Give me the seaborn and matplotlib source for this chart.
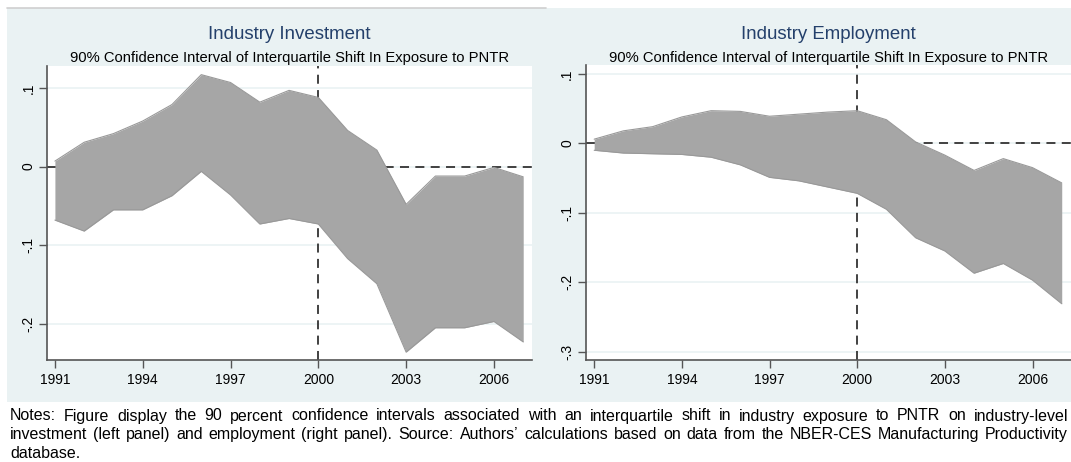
import matplotlib
matplotlib.use("Agg")
import matplotlib.pyplot as plt
import seaborn as sns
import pandas as pd
from matplotlib.patches import Rectangle
from matplotlib.lines import Line2D
from matplotlib.ticker import FuncFormatter

# ---------------- data ----------------
years = [1991, 1992, 1993, 1994, 1995, 1996, 1997, 1998, 1999,
         2000, 2001, 2002, 2003, 2004, 2005, 2006, 2007]
inv_upper = [0.007, 0.031, 0.042, 0.058, 0.079, 0.117, 0.107, 0.082, 0.097,
             0.088, 0.046, 0.021, -0.048, -0.012, -0.012, -0.001, -0.013]
inv_lower = [-0.068, -0.082, -0.055, -0.055, -0.037, -0.006, -0.036, -0.073, -0.066,
             -0.073, -0.117, -0.149, -0.236, -0.205, -0.205, -0.197, -0.223]
emp_upper = [0.006, 0.018, 0.024, 0.038, 0.047, 0.046, 0.039, 0.042, 0.045,
             0.047, 0.034, 0.002, -0.017, -0.039, -0.022, -0.035, -0.057]
emp_lower = [-0.010, -0.014, -0.015, -0.016, -0.020, -0.031, -0.049, -0.054, -0.063,
             -0.072, -0.095, -0.136, -0.155, -0.187, -0.173, -0.197, -0.231]

titles = ["Industry Investment", "Industry Employment"]
subtitle = "90% Confidence Interval of Interquartile Shift In Exposure to PNTR"
xticks = [1991, 1994, 1997, 2000, 2003, 2006]
inv_yticks = [-0.2, -0.1, 0.0, 0.1]
emp_yticks = [-0.3, -0.2, -0.1, 0.0, 0.1]
note_lines = [
    "Notes: Figure display the 90 percent confidence intervals associated with an interquartile shift in industry exposure to PNTR on industry-level",
    "investment (left panel) and employment (right panel). Source: Authors\u2019 calculations based on data from the NBER-CES Manufacturing Productivity",
    "database.",
]

# ---------------- style ----------------
sns.set_theme(style="white")
plt.rcParams["font.family"] = ["Liberation Sans", "DejaVu Sans"]

W, H = 1071, 462
fig = plt.figure(figsize=(W / 100, H / 100), dpi=100)
fig.patch.set_facecolor("white")

BG = "#EAF2F3"
BAND = "#A6A6A6"
TITLE_C = "#24406b"

def fx(px):
    return px / W

def fy(py):
    return 1 - py / H

# panel background (behind the axes)
fig.patches.append(Rectangle((fx(7), fy(401.5)), fx(W - 7), (401.5 - 8) / H,
                             transform=fig.transFigure, facecolor=BG,
                             edgecolor="none", zorder=-10))
fig.lines.append(Line2D([fx(7), fx(546)], [fy(7.6), fy(7.6)], transform=fig.transFigure,
                        color="#cfcfcf", lw=1.2, zorder=-9))

def stata_fmt(v, pos):
    if abs(v) < 1e-9:
        return "0"
    s = f"{v:.1f}"
    return s.replace("0.", ".")

def panel(rect, upper, lower, ylim, yticks, title, xlim):
    ax = fig.add_axes(rect)
    ax.set_zorder(1)
    ax.set_facecolor("white")
    df = pd.DataFrame({"year": years, "upper": upper, "lower": lower})
    # reference lines (behind band)
    ax.axvline(2000, color="#333333", lw=1.3, ls=(0, (5, 3.5)), zorder=2)
    ax.axhline(0, color="#333333", lw=1.3, ls=(0, (5, 3.5)), zorder=2)
    ax.fill_between(df["year"], df["lower"], df["upper"], color=BAND,
                    linewidth=0, zorder=3)
    sns.lineplot(data=df, x="year", y="upper", ax=ax, color="#999999", lw=0.8, zorder=4)
    sns.lineplot(data=df, x="year", y="lower", ax=ax, color="#999999", lw=0.8, zorder=4)
    ax.set_xlim(*xlim)
    ax.set_ylim(*ylim)
    ax.set_xticks(xticks)
    ax.set_yticks(yticks)
    ax.yaxis.set_major_formatter(FuncFormatter(stata_fmt))
    ax.set_xlabel("")
    ax.set_ylabel("")
    ax.grid(axis="y", color=BG, lw=1.2, zorder=1)
    ax.grid(axis="x", visible=False)
    ax.set_axisbelow(True)
    for s in ["top", "right"]:
        ax.spines[s].set_visible(False)
    for s in ["left", "bottom"]:
        ax.spines[s].set_color("#555555")
        ax.spines[s].set_linewidth(1.2)
    ax.tick_params(axis="both", which="major", length=5.5, width=1, color="#555555",
                   labelsize=10, labelcolor="black", direction="out",
                   left=True, bottom=True)
    ax.tick_params(axis="x", pad=4)
    ax.tick_params(axis="y", pad=3)
    for lab in ax.get_yticklabels():
        lab.set_rotation(90)
        lab.set_va("center")
    cx = rect[0] + rect[2] / 2
    fig.text(cx, fy(34.5), title, ha="center", va="center", fontsize=13.4, color=TITLE_C)
    fig.text(cx, fy(58), subtitle, ha="center", va="center", fontsize=10.6, color="black")
    return ax

ax1 = panel([fx(47.3), fy(360), fx(531.7 - 47.3), (360 - 66) / H],
            inv_upper, inv_lower, (-0.246, 0.128), inv_yticks, titles[0],
            (1990.74, 2007.29))
ax2 = panel([fx(586), fy(360), fx(1070.5 - 586), (360 - 65) / H],
            emp_upper, emp_lower, (-0.312, 0.1128), emp_yticks, titles[1],
            (1990.72, 2007.3))

# ---------------- notes (justified) ----------------
renderer = fig.canvas.get_renderer()
note_fs = 11.5
x_left, x_right = 10, 1068
line_y = [416, 434.5, 453]
for i, line in enumerate(note_lines):
    words = line.split(" ")
    ts = [fig.text(0, fy(line_y[i]), w, fontsize=note_fs, color="black",
                   ha="left", va="center") for w in words]
    widths = [t.get_window_extent(renderer).width for t in ts]
    if i < len(note_lines) - 1 and len(words) > 1:
        gap = (x_right - x_left - sum(widths)) / (len(words) - 1)
    else:
        sp = fig.text(0, 0, "a a", fontsize=note_fs)
        sa = fig.text(0, 0, "aa", fontsize=note_fs)
        gap = sp.get_window_extent(renderer).width - sa.get_window_extent(renderer).width
        sp.remove(); sa.remove()
    x = x_left
    for t, w in zip(ts, widths):
        t.set_x(fx(x))
        x += w + gap

fig.savefig("out.png", dpi=100)
